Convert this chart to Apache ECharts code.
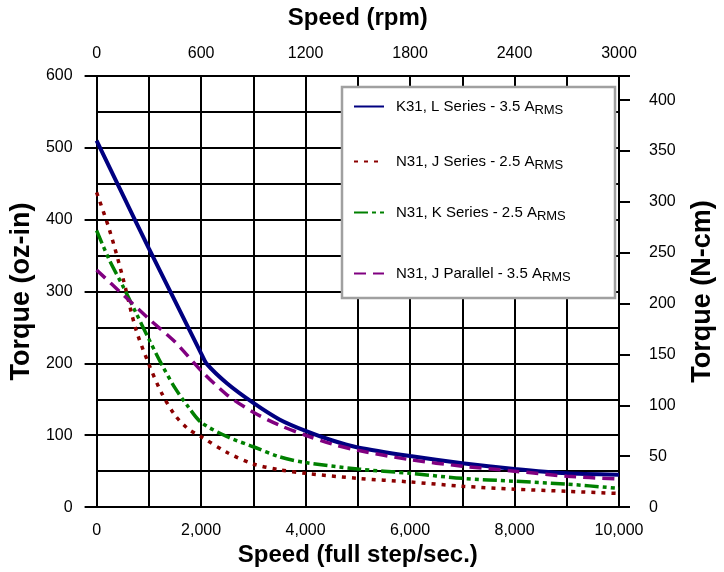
<!DOCTYPE html>
<html>
<head>
<meta charset="utf-8">
<script src="https://cdn.jsdelivr.net/npm/echarts@6/dist/echarts.min.js"></script>
<style>
  html, body { margin: 0; padding: 0; background: #fff; }
  #chart { width: 724px; height: 572px; }
</style>
</head>
<body>
<div id="chart"></div>
<script>
// series labels (legend text, subscript added in formatter)
const seriesNames = [
  'K31, L Series - 3.5 A',
  'N31, J Series - 2.5 A',
  'N31, K Series - 2.5 A',
  'N31, J Parallel - 3.5 A'
]

// K31, L Series - 3.5 A RMS
const kLSeriesSpeed = [0, 500, 1000, 1500, 2000, 2100, 2500, 3000, 3500, 4000, 4500, 5000, 6000, 7000, 8000, 9000, 10000]
const kLSeriesTorque = [510, 435, 360, 287, 214, 200, 172, 145, 122, 106, 93, 83, 71, 61, 53, 47, 45]

// N31, J Series - 2.5 A RMS
const nJSeriesSpeed = [0, 250, 500, 750, 1000, 1250, 1500, 1750, 2000, 2500, 3000, 3500, 4000, 5000, 6000, 7000, 8000, 9000, 10000]
const nJSeriesTorque = [438, 385, 320, 248, 199, 158, 128, 109, 98, 76, 60, 52, 47, 40, 35, 29, 25, 22, 19]

// N31, K Series - 2.5 A RMS
const nKSeriesSpeed = [0, 250, 500, 750, 1000, 1250, 1500, 1750, 2000, 2500, 3000, 3500, 4000, 5000, 6000, 7000, 8000, 9000, 10000]
const nKSeriesTorque = [385, 343, 308, 271, 234, 198, 166, 140, 118, 98, 84, 70, 62, 53, 47, 40, 36, 32, 26]

// N31, J Parallel - 3.5 A RMS
const nJParallelSpeed = [0, 500, 1000, 1500, 2000, 2500, 3000, 3500, 4000, 4500, 5000, 6000, 7000, 8000, 9000, 10000]
const nJParallelTorque = [330, 296, 262, 230, 190, 156, 132, 114, 100, 88, 79, 66, 57, 50, 43, 39]

// right axis (N-cm) label values
const nCmTicks = [0, 50, 100, 150, 200, 250, 300, 350, 400]
const OZIN_TO_NCM = 0.70616

const zip = (xs, ys) => xs.map((x, i) => [x, ys[i]])

const chart = echarts.init(document.getElementById('chart'))

const font = 'Liberation Sans, Arial, sans-serif'
const black = '#000'

function legendFor (name, top) {
  return {
    data: [name],
    left: 353,
    top: top,
    padding: 0,
    itemWidth: 30,
    itemHeight: 14,
    z: 10,
    selectedMode: false,
    itemStyle: { opacity: 0, borderWidth: 0 },
    formatter: n => '{t|' + n + '}{s|RMS}',
    textStyle: {
      rich: {
        t: { fontFamily: font, fontSize: 15, color: '#000', lineHeight: 16, padding: [0, 0, 0, 7] },
        s: { fontFamily: font, fontSize: 13, color: '#000', lineHeight: 16, padding: [8, 0, 0, 0] }
      }
    }
  }
}

chart.setOption({
  animation: false,
  backgroundColor: '#fff',
  grid: { left: 94, right: 98, top: 76, bottom: 61 },
  graphic: [{
    type: 'rect',
    z: 5,
    shape: { x: 342, y: 87, width: 273, height: 211 },
    style: { fill: '#fff', stroke: '#a0a0a0', lineWidth: 2.5 }
  }],
  legend: [
    legendFor(seriesNames[0], 96),
    legendFor(seriesNames[1], 151),
    legendFor(seriesNames[2], 202),
    legendFor(seriesNames[3], 263)
  ],
  xAxis: [
    {
      type: 'value',
      position: 'bottom',
      min: 0,
      max: 10000,
      interval: 2000,
      name: 'Speed (full step/sec.)',
      nameLocation: 'middle',
      nameGap: 34,
      nameTextStyle: { fontFamily: font, fontSize: 24, fontWeight: 'bold', color: black },
      axisLine: { show: true, onZero: false, lineStyle: { color: black, width: 2 } },
      axisTick: { show: false },
      axisLabel: {
        margin: 15,
        fontFamily: font,
        fontSize: 16,
        color: black,
        formatter: v => v.toLocaleString('en-US')
      },
      splitLine: { show: true, lineStyle: { color: black, width: 2 } },
      minorTick: { show: false, splitNumber: 2 },
      minorSplitLine: { show: true, lineStyle: { color: black, width: 2 } }
    },
    {
      type: 'value',
      position: 'top',
      min: 0,
      max: 3000,
      interval: 600,
      name: 'Speed (rpm)',
      nameLocation: 'middle',
      nameGap: 46,
      nameTextStyle: { fontFamily: font, fontSize: 24, fontWeight: 'bold', color: black },
      axisLine: { show: true, onZero: false, lineStyle: { color: black, width: 2 } },
      axisTick: { show: false },
      axisLabel: { margin: 14, fontFamily: font, fontSize: 16, color: black, formatter: v => String(v) },
      splitLine: { show: false }
    }
  ],
  yAxis: [
    {
      type: 'value',
      position: 'left',
      min: 0,
      max: 600,
      interval: 100,
      name: 'Torque (oz-in)',
      nameLocation: 'middle',
      nameGap: 58,
      nameTextStyle: { fontFamily: font, fontSize: 27, fontWeight: 'bold', color: black },
      axisLine: { show: true, onZero: false, lineStyle: { color: black, width: 2 } },
      axisTick: { show: true, inside: false, length: 12, lineStyle: { color: black, width: 2 } },
      axisLabel: { margin: 24, fontFamily: font, fontSize: 16, color: black },
      splitLine: { show: true, lineStyle: { color: black, width: 2 } },
      minorTick: { show: false, splitNumber: 2 },
      minorSplitLine: { show: true, lineStyle: { color: black, width: 2 } }
    },
    {
      type: 'value',
      position: 'right',
      min: 0,
      max: 600 * OZIN_TO_NCM,
      interval: 50,
      name: 'Torque (N-cm)',
      nameLocation: 'middle',
      nameGap: 70,
      nameTextStyle: { fontFamily: font, fontSize: 27, fontWeight: 'bold', color: black },
      axisLine: { show: true, onZero: false, lineStyle: { color: black, width: 2 } },
      axisTick: { show: true, inside: false, length: 11, lineStyle: { color: black, width: 2 } },
      axisLabel: { margin: 30, fontFamily: font, fontSize: 16, color: black, customValues: nCmTicks },
      splitLine: { show: false }
    }
  ],
  series: [
    {
      name: seriesNames[0],
      type: 'line',
      xAxisIndex: 0,
      yAxisIndex: 0,
      showSymbol: false,
      symbol: 'none',
      smooth: 0.2,
      color: '#000080',
      lineStyle: { color: '#000080', width: 4, type: 'solid' },
      data: zip(kLSeriesSpeed, kLSeriesTorque)
    },
    {
      name: seriesNames[1],
      type: 'line',
      showSymbol: false,
      symbol: 'none',
      smooth: 0.3,
      color: '#8b0000',
      lineStyle: { color: '#8b0000', width: 3.5, type: [4, 6] },
      data: zip(nJSeriesSpeed, nJSeriesTorque)
    },
    {
      name: seriesNames[2],
      type: 'line',
      showSymbol: false,
      symbol: 'none',
      smooth: 0.3,
      color: '#008000',
      lineStyle: { color: '#008000', width: 3.5, type: [14, 4, 4, 4, 4, 4] },
      data: zip(nKSeriesSpeed, nKSeriesTorque)
    },
    {
      name: seriesNames[3],
      type: 'line',
      showSymbol: false,
      symbol: 'none',
      smooth: 0.3,
      color: '#800080',
      lineStyle: { color: '#800080', width: 3.5, type: [12, 7] },
      data: zip(nJParallelSpeed, nJParallelTorque)
    }
  ]
})
</script>
</body>
</html>
